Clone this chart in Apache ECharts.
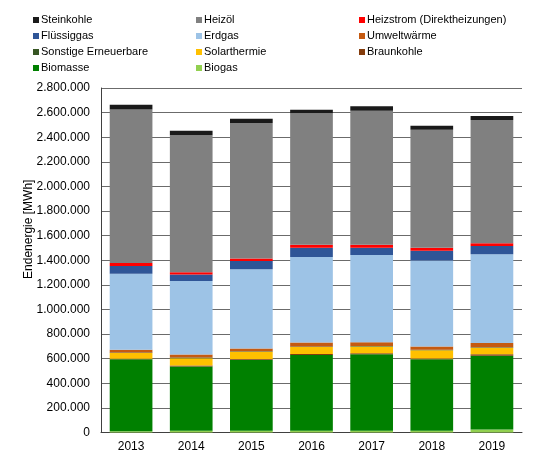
<!DOCTYPE html>
<html>
<head>
<meta charset="utf-8">
<script src="https://cdn.jsdelivr.net/npm/echarts@6/dist/echarts.min.js"></script>
<style>
  html, body { margin: 0; padding: 0; background: #fff; }
  #chart { width: 548px; height: 460px; }
</style>
</head>
<body>
<div id="chart"></div>
<script>
// Endenergie in MWh
const years = ['2013', '2014', '2015', '2016', '2017', '2018', '2019'];

const biogas      = [10000, 15000, 15000, 15000, 15000, 15000, 25000];
const biomasse    = [586000, 521000, 577000, 614000, 622000, 581000, 599000];
const braunkohle  = [4000, 8000, 5000, 10000, 8000, 6000, 12000];
const solar       = [47000, 60000, 60000, 55000, 55000, 67000, 52000];
const sonstige    = [3000, 6000, 3000, 4000, 3000, 3000, 4000];
const umwelt      = [22000, 24000, 23000, 33000, 31000, 26000, 36000];
const erdgas      = [619000, 597000, 643000, 695000, 708000, 699000, 720000];
const fluessiggas = [62000, 54000, 67000, 76000, 60000, 81000, 67000];
const heizstrom   = [24000, 17000, 22000, 24000, 24000, 24000, 24000];
const heizoel     = [1249000, 1113000, 1101000, 1068000, 1090000, 959000, 1001000];
const steinkohle  = [38000, 38000, 35000, 30000, 35000, 33000, 32000];

// bottom to top
const stack = [
    {name: 'Biogas', data: biogas, color: '#92d050'},
    {name: 'Biomasse', data: biomasse, color: '#008000'},
    {name: 'Braunkohle', data: braunkohle, color: '#843c0c'},
    {name: 'Solarthermie', data: solar, color: '#ffc000'},
    {name: 'Sonstige Erneuerbare', data: sonstige, color: '#375623'},
    {name: 'Umweltwärme', data: umwelt, color: '#c55a11'},
    {name: 'Erdgas', data: erdgas, color: '#9dc3e6'},
    {name: 'Flüssiggas', data: fluessiggas, color: '#2f5597'},
    {name: 'Heizstrom (Direktheizungen)', data: heizstrom, color: '#ff0000'},
    {name: 'Heizöl', data: heizoel, color: '#808080'},
    {name: 'Steinkohle', data: steinkohle, color: '#1a1a1a'}
];

const legendCols = [
    ['Steinkohle', 'Flüssiggas', 'Sonstige Erneuerbare', 'Biomasse'],
    ['Heizöl', 'Erdgas', 'Solarthermie', 'Biogas'],
    ['Heizstrom (Direktheizungen)', 'Umweltwärme', 'Braunkohle']
];
const legendLeft = [28, 191, 354];

function fmt(v) {
    return String(v).replace(/\B(?=(\d{3})+(?!\d))/g, '.');
}

const chart = echarts.init(document.getElementById('chart'));

chart.setOption({
    animation: false,
    textStyle: {fontFamily: 'Liberation Sans, Arial, sans-serif'},
    grid: {left: 101, right: 26, top: 88, bottom: 27.5},
    legend: legendCols.map((col, i) => ({
        data: col,
        orient: 'vertical',
        left: legendLeft[i],
        top: 9,
        itemWidth: 6,
        itemHeight: 6,
        itemGap: 4,
        icon: 'rect',
        selectedMode: false,
        textStyle: {fontSize: 11, color: '#000', lineHeight: 12, padding: [0, 0, 0, -3]}
    })),
    xAxis: {
        type: 'category',
        data: years,
        axisTick: {show: false},
        axisLine: {lineStyle: {color: '#404040'}},
        axisLabel: {fontSize: 12, color: '#000', margin: 8}
    },
    yAxis: {
        type: 'value',
        min: 0,
        max: 2800000,
        interval: 200000,
        name: 'Endenergie [MWh]',
        nameLocation: 'middle',
        nameGap: 66,
        nameMoveOverlap: false,
        nameTextStyle: {fontSize: 12, color: '#000', padding: [0, 0, 0, 62]},
        axisLine: {show: true, lineStyle: {color: '#404040'}},
        axisTick: {show: false},
        axisLabel: {fontSize: 12, color: '#000', margin: 11, formatter: fmt},
        splitLine: {lineStyle: {color: '#6b6b6b'}}
    },
    series: stack.map(s => ({
        name: s.name,
        type: 'bar',
        stack: 'total',
        data: s.data,
        barWidth: '71%',
        itemStyle: {color: s.color}
    }))
});
</script>
</body>
</html>
